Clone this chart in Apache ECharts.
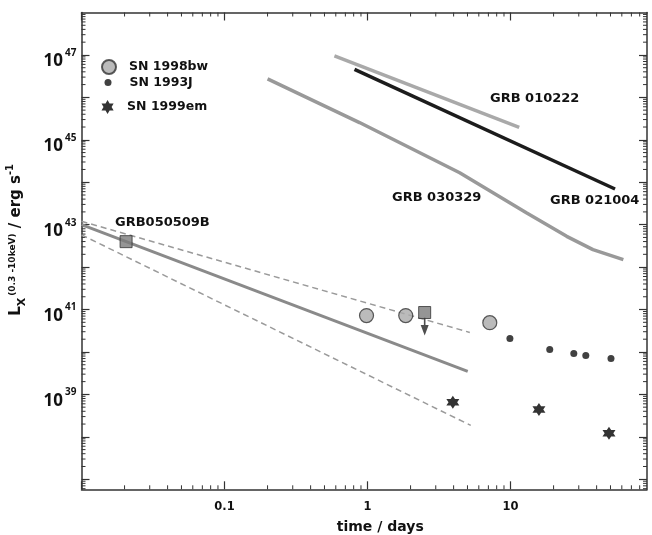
<!DOCTYPE html>
<html>
<head>
<meta charset="utf-8">
<script src="https://cdn.jsdelivr.net/npm/echarts@6/dist/echarts.min.js"></script>
<style>
html,body{margin:0;padding:0;background:#fff;}
#c{width:652px;height:535px;}
</style>
</head>
<body>
<div id="c"></div>
<script>
// ---- axis ranges & tick labels ----
const X_MIN = 0.01, X_MAX = 90;
const Y_MIN = 5.8e36, Y_MAX = 1e48;
const xTickLabels = ['0.1', '1', '10'];
const xMajorTicks = [0.01, 0.1, 1, 10];
const yLabelExponents = [39, 41, 43, 45, 47];
const yMajorExponents = [37, 38, 39, 40, 41, 42, 43, 44, 45, 46, 47, 48];

// ---- GRB afterglow light curves (time in days, L_X in erg/s) ----
const grb010222_t = [0.587, 11.5];
const grb010222_L = [9.5e46, 1.95e45];
const grb021004_t = [0.811, 53.8];
const grb021004_L = [4.57e46, 6.92e43];
const grb030329_t = [0.200, 0.879, 4.41, 12.9, 24.7, 37.7, 61.5];
const grb030329_L = [2.72e46, 2.55e45, 1.67e44, 1.91e43, 5.31e42, 2.58e42, 1.50e42];
const grb050509B_fit_t = [0.01, 5.02];
const grb050509B_fit_L = [1.0e43, 3.47e39];
const grb050509B_up_t = [0.01, 5.19];
const grb050509B_up_L = [1.2e43, 2.88e40];
const grb050509B_lo_t = [0.01, 5.27];
const grb050509B_lo_L = [5.75e42, 1.86e38];
const grb050509B_pt_t = [0.0205];
const grb050509B_pt_L = [3.98e42];
const grb050509B_lim_t = [2.51];
const grb050509B_lim_L = [8.5e40];

// ---- supernovae ----
const sn1998bw_t = [0.984, 1.85, 7.16];
const sn1998bw_L = [7.2e40, 7.2e40, 4.9e40];
const sn1993J_t = [9.9, 18.8, 27.7, 33.6, 50.4];
const sn1993J_L = [2.08e40, 1.15e40, 9.2e39, 8.3e39, 7.0e39];
const sn1999em_t = [3.95, 15.8, 48.8];
const sn1999em_L = [6.5e38, 4.4e38, 1.21e38];

// ---- minor tick values (2..9 per decade) ----
const minorMultipliers = [2, 3, 4, 5, 6, 7, 8, 9];
const xDecades = [-2, -1, 0, 1];
const yDecades = [36, 37, 38, 39, 40, 41, 42, 43, 44, 45, 46, 47];

function zip(a, b) { return a.map((v, i) => [v, b[i]]); }
function minorTicks(decades, lo, hi) {
  const out = [];
  decades.forEach(d => minorMultipliers.forEach(m => {
    const v = m * Math.pow(10, d);
    if (v > lo && v < hi) out.push(v);
  }));
  return out;
}
const xMinor = minorTicks(xDecades, X_MIN, X_MAX);
const yMinor = minorTicks(yDecades, Y_MIN, Y_MAX);
const yMajorTicks = yMajorExponents.map(e => Number('1e' + e));
const yLabelValues = yLabelExponents.map(e => Number('1e' + e));
const xLabelValues = xTickLabels.map(s => parseFloat(s));

const STAR = 'path://M50,0 L64.43,25 L93.3,25 L78.87,50 L93.3,75 L64.43,75 L50,100 L35.57,75 L6.7,75 L21.13,50 L6.7,25 L35.57,25 Z';
const ARROW = 'path://M4,0 L6,0 L6,10 L10,10 L5,24 L0,10 L4,10 Z';
const FONT = 'DejaVu Sans';
const AX = '#333';

const chart = echarts.init(document.getElementById('c'), null, {renderer: 'canvas'});

function xLabel(v) {
  for (let i = 0; i < xLabelValues.length; i++) {
    if (Math.abs(Math.log10(v) - Math.log10(xLabelValues[i])) < 1e-6) return xTickLabels[i];
  }
  return '';
}
function yLabel(v) {
  const e = Math.round(Math.log10(v));
  return '{b|10}{s|' + e + '}';
}

const axisCommon = {
  type: 'log',
  logBase: 10,
  axisLine: {show: true, onZero: false, lineStyle: {color: AX, width: 1.5}},
  splitLine: {show: false},
  minorTick: {show: false},
  minorSplitLine: {show: false}
};
const xTick = {show: true, inside: true, length: 8, customValues: xMajorTicks, lineStyle: {color: AX, width: 1.2}};
const yTick = {show: true, inside: true, length: 8, customValues: yMajorTicks, lineStyle: {color: AX, width: 1.2}};

const option = {
  backgroundColor: '#fff',
  animation: false,
  grid: {left: 81.5, right: 5, top: 12.5, bottom: 45.7, containLabel: false, outerBoundsMode: 'none'},
  xAxis: [
    Object.assign({}, axisCommon, {
      position: 'bottom', min: X_MIN, max: X_MAX, axisTick: xTick,
      axisLabel: {show: true, customValues: xLabelValues, formatter: xLabel, margin: 12, color: '#111',
        fontFamily: FONT, fontWeight: 'bold', fontSize: 11.5},
      name: 'time / days', nameLocation: 'middle', nameGap: 31,
      nameTextStyle: {fontFamily: FONT, fontWeight: 'bold', fontSize: 14, color: '#111', padding: [0, 0, 0, 32]}
    }),
    Object.assign({}, axisCommon, {
      position: 'top', min: X_MIN, max: X_MAX, axisTick: xTick, axisLabel: {show: false}
    })
  ],
  yAxis: [
    Object.assign({}, axisCommon, {
      position: 'left', min: Y_MIN, max: Y_MAX, axisTick: yTick,
      axisLabel: {show: true, customValues: yLabelValues, formatter: yLabel, margin: 5, color: '#111',
        padding: [8, 0, 0, 0],
        rich: {
          b: {fontFamily: 'Open Sans', fontWeight: 'bold', fontSize: 17, color: '#111', lineHeight: 22, verticalAlign: 'bottom'},
          s: {fontFamily: 'Open Sans', fontWeight: 'bold', fontSize: 10, color: '#111', verticalAlign: 'top', padding: [0, 0, 0, 2]}
        }},
      name: '{b|L}{x|X}{p|(0.3 -10keV)}{b| / erg s}{s|-1}',
      nameLocation: 'middle', nameRotate: 90, nameGap: 54,
      nameTextStyle: {
        color: '#111', padding: [0, 0, 0, 22],
        rich: {
          b: {fontFamily: FONT, fontWeight: 'bold', fontSize: 15, color: '#111', lineHeight: 22},
          x: {fontFamily: FONT, fontWeight: 'bold', fontSize: 11, color: '#111', verticalAlign: 'bottom', padding: [0, 2, 0, 0]},
          p: {fontFamily: FONT, fontWeight: 'bold', fontSize: 9, color: '#111', verticalAlign: 'top', padding: [3, 0, 0, 0]},
          s: {fontFamily: FONT, fontWeight: 'bold', fontSize: 10, color: '#111', verticalAlign: 'top'}
        }
      }
    }),
    Object.assign({}, axisCommon, {
      position: 'right', min: Y_MIN, max: Y_MAX, axisTick: yTick, axisLabel: {show: false}
    })
  ],
  legend: [
    {data: ['SN 1998bw'], left: 101, top: 59, padding: 0, itemWidth: 14, itemHeight: 14,
     textStyle: {fontFamily: FONT, fontWeight: 'bold', fontSize: 12.5, color: '#111', padding: [0, 0, 0, 8]}},
    {data: ['SN 1993J'], left: 104.5, top: 76, padding: 0, itemWidth: 7, itemHeight: 14,
     textStyle: {fontFamily: FONT, fontWeight: 'bold', fontSize: 12.5, color: '#111', padding: [0, 0, 0, 13]}},
    {data: ['SN 1999em'], left: 101.5, top: 100, padding: 0, itemWidth: 13, itemHeight: 14,
     textStyle: {fontFamily: FONT, fontWeight: 'bold', fontSize: 12.5, color: '#111', padding: [0, 0, 0, 8]}}
  ],
  graphic: [
    {type: 'text', left: 490, top: 92, style: {text: 'GRB 010222', font: 'bold 13px "DejaVu Sans"', fill: '#111'}},
    {type: 'text', left: 550, top: 194, style: {text: 'GRB 021004', font: 'bold 13px "DejaVu Sans"', fill: '#111'}},
    {type: 'text', left: 392, top: 191, style: {text: 'GRB 030329', font: 'bold 13px "DejaVu Sans"', fill: '#111'}},
    {type: 'text', left: 115, top: 216, style: {text: 'GRB050509B', font: 'bold 13px "DejaVu Sans"', fill: '#111'}}
  ],
  series: [
    {type: 'custom', name: 'xminor', silent: true, clip: false, z: 1,
     data: xMinor.map(v => [v, Y_MIN]),
     renderItem: function (params, api) {
       const cs = params.coordSys;
       const x = api.coord([api.value(0), Y_MIN])[0];
       const st = {stroke: AX, lineWidth: 1};
       return {type: 'group', children: [
         {type: 'line', shape: {x1: x, y1: cs.y + cs.height, x2: x, y2: cs.y + cs.height - 4}, style: st},
         {type: 'line', shape: {x1: x, y1: cs.y, x2: x, y2: cs.y + 4}, style: st}
       ]};
     }},
    {type: 'custom', name: 'yminor', silent: true, clip: false, z: 1,
     data: yMinor.map(v => [X_MIN, v]),
     renderItem: function (params, api) {
       const cs = params.coordSys;
       const y = api.coord([X_MIN, api.value(1)])[1];
       const st = {stroke: AX, lineWidth: 1};
       return {type: 'group', children: [
         {type: 'line', shape: {x1: cs.x, y1: y, x2: cs.x + 4, y2: y}, style: st},
         {type: 'line', shape: {x1: cs.x + cs.width, y1: y, x2: cs.x + cs.width - 4, y2: y}, style: st}
       ]};
     }},
    {type: 'line', name: 'GRB 010222', data: zip(grb010222_t, grb010222_L), symbol: 'none',
     lineStyle: {color: '#a9a9a9', width: 3.5}, z: 2},
    {type: 'line', name: 'GRB 021004', data: zip(grb021004_t, grb021004_L), symbol: 'none',
     lineStyle: {color: '#1c1c1c', width: 3.5}, z: 2},
    {type: 'line', name: 'GRB 030329', data: zip(grb030329_t, grb030329_L), symbol: 'none',
     lineStyle: {color: '#999', width: 3.5}, z: 2},
    {type: 'line', name: 'GRB050509B fit', data: zip(grb050509B_fit_t, grb050509B_fit_L), symbol: 'none',
     lineStyle: {color: '#8a8a8a', width: 3}, z: 2},
    {type: 'line', name: 'GRB050509B upper', data: zip(grb050509B_up_t, grb050509B_up_L), symbol: 'none',
     lineStyle: {color: '#9a9a9a', width: 1.5, type: [6, 4]}, z: 2},
    {type: 'line', name: 'GRB050509B lower', data: zip(grb050509B_lo_t, grb050509B_lo_L), symbol: 'none',
     lineStyle: {color: '#9a9a9a', width: 1.5, type: [6, 4]}, z: 2},
    {type: 'scatter', name: 'GRB050509B', data: zip(grb050509B_pt_t, grb050509B_pt_L), symbol: 'rect', symbolSize: 12,
     itemStyle: {color: '#7a7a7a', borderColor: '#333', borderWidth: 1}, z: 4},
    {type: 'scatter', name: 'GRB050509B limit arrow', data: zip(grb050509B_lim_t, grb050509B_lim_L), symbol: ARROW,
     symbolSize: [8, 18], symbolOffset: [0, 14], itemStyle: {color: '#222'}, z: 3},
    {type: 'scatter', name: 'GRB050509B limit', data: zip(grb050509B_lim_t, grb050509B_lim_L), symbol: 'rect', symbolSize: 12,
     itemStyle: {color: '#7a7a7a', borderColor: '#333', borderWidth: 1}, z: 4},
    {type: 'scatter', name: 'SN 1998bw', data: zip(sn1998bw_t, sn1998bw_L), symbol: 'circle', symbolSize: 14,
     itemStyle: {color: '#aaaaaa', borderColor: '#333', borderWidth: 1.2}, z: 4},
    {type: 'scatter', name: 'SN 1993J', data: zip(sn1993J_t, sn1993J_L), symbol: 'circle', symbolSize: 7,
     itemStyle: {color: '#111'}, z: 4},
    {type: 'scatter', name: 'SN 1999em', data: zip(sn1999em_t, sn1999em_L), symbol: STAR, symbolSize: 13,
     itemStyle: {color: '#000'}, z: 4}
  ]
};
chart.setOption(option);
</script>
</body>
</html>
